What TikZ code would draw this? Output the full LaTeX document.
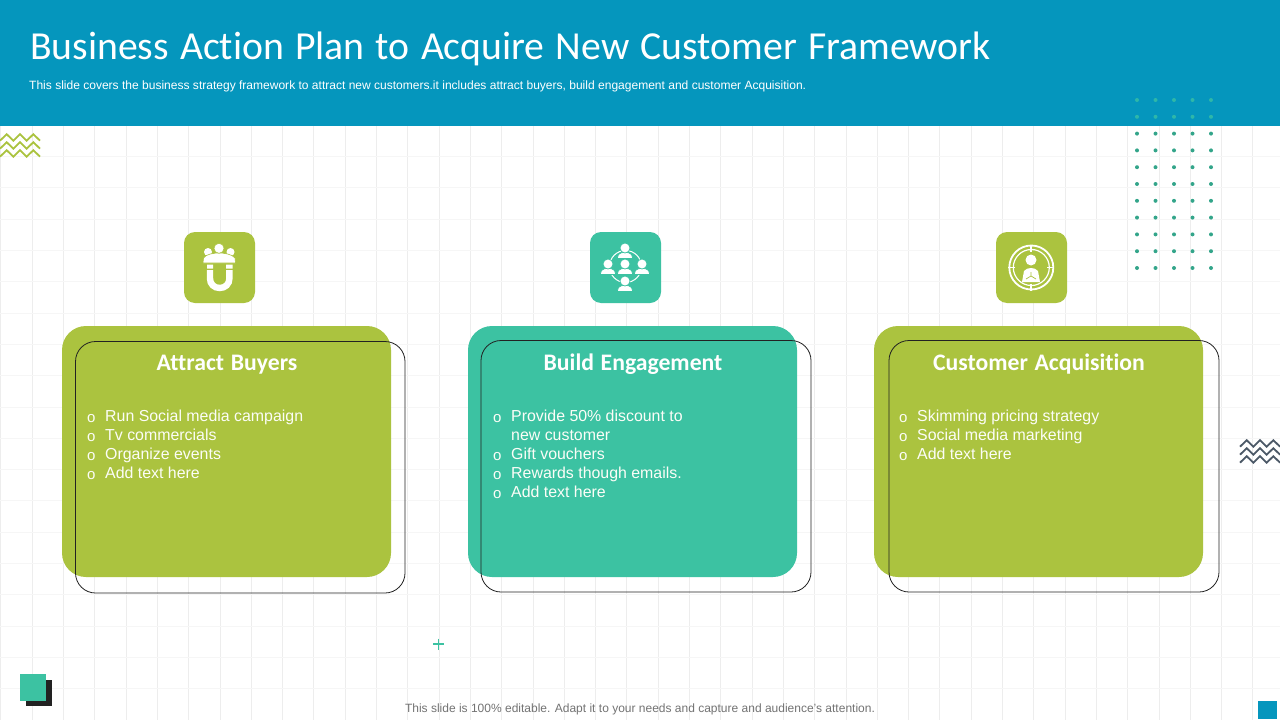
\documentclass[tikz,border=0pt]{standalone}
\usepackage{fontspec}
\usetikzlibrary{calc}
\setmainfont{Liberation Sans}
\newfontfamily\headfont[Ligatures=NoCommon,WordSpace=1.25]{Carlito}
\definecolor{hdr}{HTML}{0596BD}
\definecolor{lime}{HTML}{ABC33F}
\definecolor{teal2}{HTML}{3CC2A2}
\definecolor{slate}{HTML}{4D5A68}
\definecolor{ink}{HTML}{222222}
\tikzset{
 gridv/.style={draw=black!7,line width=.7pt},
 gridh/.style={draw=black!3.5,line width=.7pt},
 panel/.style={rounded corners=24pt},
 outl/.style={draw=ink,line width=.8pt,rounded corners=20pt},
 iconbox/.style={rounded corners=11pt},
 head/.style={font=\headfont\bfseries\fontsize{23.7}{24}\selectfont,text=white,anchor=base},
 item/.style={font=\fontsize{15.9}{16}\selectfont,text=white!96!lime,anchor=base west,inner sep=0pt},
 bull/.style={font=\fontsize{15}{15}\selectfont,text=white!96!lime,anchor=base west,inner sep=0pt,yshift=-1pt},
 zig/.style={line width=1.8pt,line join=miter,fill=none}
}
\newcommand{\person}[3]{% x y colour-behind
 \fill[white,draw=#3,line width=.7pt] (#1-7.8,#2+10.5) -- (#1-6.5,#2+6.5) .. controls (#1-4,#2+3.5) and (#1+4,#2+3.5) .. (#1+6.5,#2+6.5) -- (#1+7.8,#2+10.5) -- cycle;
 \fill[white,draw=#3,line width=.7pt] (#1,#2) circle (5);
}
\newcommand{\zigrow}[2]{% x0 y0 (valley start)
 \draw[zig,#2] #1 -- ++(6.67,-6.5) -- ++(6.67,6.5) -- ++(6.67,-6.5) -- ++(6.67,6.5) -- ++(6.67,-6.5) -- ++(6.67,6.5);
}
\begin{document}
\begin{tikzpicture}[x=1pt,y=-1pt]
\useasboundingbox (0,0) rectangle (1280,720);
\fill[white] (0,0) rectangle (1280,720);
% grid
\foreach \k in {0,...,40}{\draw[gridv] ({0.8+31.3*\k},126) -- ({0.8+31.3*\k},720);}
\foreach \k in {0,...,18}{\draw[gridh] (0,{156.5+31.3*\k}) -- (1280,{156.5+31.3*\k});}
% header
\fill[hdr] (0,0) rectangle (1280,126);
\node[anchor=base west,inner sep=0pt,text=white,font=\headfont\fontsize{39.7}{40}\selectfont] (title) at (30,59) {Business Action Plan to Acquire New Customer Framework};
\node[anchor=base west,inner sep=0pt,text=white,font=\fontsize{12.03}{12}\selectfont] (sub) at (29,89) {This slide covers the business strategy framework to attract new customers.it includes attract buyers, build engagement and customer Acquisition.};
% dots
\foreach \x in {1137,1155.5,1174,1192.5,1211}{
 \foreach \j in {0,1}{\fill[teal2!75!hdr] (\x,{100+16.8*\j}) circle (2);}
 \foreach \j in {2,...,10}{\fill[teal2!85!black] (\x,{100+16.8*\j}) circle (2);}
}
% zigzags
\zigrow{(0,140.7)}{lime}
\zigrow{(0,148.7)}{lime}
\zigrow{(0,156.7)}{lime}
\zigrow{(1240,446.7)}{slate}
\zigrow{(1240,454.7)}{slate}
\zigrow{(1240,462.7)}{slate}
% panels
\fill[lime,panel] (62,326) rectangle (391,577);
\draw[outl] (75.5,341.5) rectangle (405,593);
\fill[teal2,panel] (468,326) rectangle (797,577);
\draw[outl] (481,340.5) rectangle (811,592);
\fill[lime,panel] (874,326) rectangle (1203,577);
\draw[outl] (889,340.5) rectangle (1219,592);
% panel titles
\node[head] (h1) at (227,370) {Attract Buyers};
\node[head] (h2) at (633,370) {Build Engagement};
\node[head] (h3) at (1039,370) {Customer Acquisition};
% lists
\foreach \n/\y/\t in {a1/421.5/Run Social media campaign,a2/440.5/Tv commercials,a3/459.5/Organize events,a4/478.5/Add text here}{
 \node[bull] (\n b) at (87,\y) {o};
 \node[item] (\n) at (105,\y) {\t};
}
\foreach \n/\y/\t in {b1/421.5/Provide 50\% discount to,b3/459.5/Gift vouchers,b4/478.5/Rewards though emails.,b5/497.5/Add text here}{
 \node[bull] (\n b) at (493,\y) {o};
 \node[item] (\n) at (511,\y) {\t};
}
\node[item] (b2) at (511,440.5) {new customer};
\foreach \n/\y/\t in {c1/421.5/Skimming pricing strategy,c2/440.5/Social media marketing,c3/459.5/Add text here}{
 \node[bull] (\n b) at (899,\y) {o};
 \node[item] (\n) at (917,\y) {\t};
}
% icon boxes
\fill[lime,iconbox] (184,232) rectangle (255,303);
\fill[teal2,iconbox] (590,232) rectangle (661,303);
\fill[lime,iconbox] (996,232) rectangle (1067,303);
% magnet icon
\fill[white] (208,252) circle (4) (230.5,252) circle (4);
\fill[white,draw=lime,line width=.6pt] (203,263) -- (203.5,258) .. controls (206,254) and (214,253) .. (219,253) .. controls (224,253) and (232,254) .. (235,258) -- (235.5,263) -- cycle;
\fill[white,draw=lime,line width=.5pt] (219,248.3) circle (5);
\fill[white] (207,264.5) rectangle (213,268.5) (226,264.5) rectangle (232.5,268.5);
\draw[white,line width=6.4pt] (210,270) -- (210,278.5) .. controls (210,284) and (214,288) .. (219.7,288) .. controls (225.4,288) and (229.4,284) .. (229.4,278.5) -- (229.4,270);
% network icon
\draw[white,line width=1pt] (625.5,266.5) circle (16);
\person{625}{248}{teal2}
\person{608}{264}{teal2}
\person{625}{264}{teal2}
\person{642}{264}{teal2}
\person{625}{281}{teal2}
% target icon
\draw[white,line width=1.8pt] (1031.3,267.5) circle (22);
\draw[white,line width=1.2pt] (1031.3,267.5) circle (18);
\foreach \a in {0,90,180,270}{\draw[white,line width=1.8pt] ($(1031.3,267.5)+(\a:16)$) -- ($(1031.3,267.5)+(\a:23)$);}
\fill[white] (1031,260) circle (5.5);
\fill[white] (1022,282) -- (1024,271) .. controls (1027,267) and (1035,267) .. (1038,271) -- (1040,282) -- cycle;
\draw[lime,line width=.7pt] (1026,279) -- (1031,276) -- (1036,279) (1031,276) -- (1031,272);
% decorations
\draw[teal2,line width=1.6pt] (433,644) -- (444,644) (438.5,638.5) -- (438.5,649.5);
\fill[ink] (26,680) rectangle (52,706);
\fill[teal2] (20,674) rectangle (46,701);
\fill[hdr] (1258,701) rectangle (1277,719);
\node[anchor=base,inner sep=0pt,text=black!55,font=\fontsize{12}{12}\selectfont] (foot) at (640,712.5) {This slide is 100\% editable. Adapt it to your needs and capture and audience's attention.};
\end{tikzpicture}
\end{document}
